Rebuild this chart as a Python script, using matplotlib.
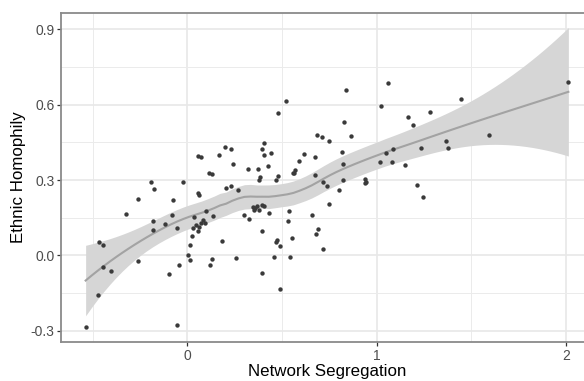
import numpy as np
import matplotlib.pyplot as plt

# --- data ---
network_segregation = [
    -0.537, -0.470, -0.468, -0.447, -0.444, -0.403, -0.324, -0.263, -0.262, -0.193,
    -0.176, -0.179, -0.180, -0.116, -0.079, -0.073, -0.056, -0.097, -0.042, -0.054,
    -0.024, 0.002, 0.013, 0.014, 0.024, 0.029, 0.044, 0.035, 0.063, 0.057,
    0.057, 0.060, 0.057, 0.071, 0.074, 0.081, 0.092, 0.099, 0.113, 0.129,
    0.118, 0.132, 0.137, 0.170, 0.182, 0.198, 0.231, 0.204, 0.229, 0.243,
    0.255, 0.268, 0.300, 0.326, 0.323, 0.371, 0.345, 0.359, 0.351, 0.367,
    0.380, 0.395, 0.407, 0.382, 0.377, 0.396, 0.396, 0.405, 0.395, 0.442,
    0.405, 0.426, 0.434, 0.456, 0.474, 0.469, 0.490, 0.491, 0.478, 0.471,
    0.478, 0.521, 0.535, 0.534, 0.545, 0.553, 0.556, 0.565, 0.569, 0.590,
    0.616, 0.673, 0.661, 0.676, 0.688, 0.680, 0.687, 0.714, 0.750, 0.718,
    0.738, 0.718, 0.746, 0.804, 0.816, 0.823, 0.823, 0.829, 0.837, 0.867,
    0.940, 0.942, 0.940, 1.018, 1.023, 1.048, 1.058, 1.080, 1.088, 1.150,
    1.166, 1.192, 1.215, 1.233, 1.247, 1.281, 1.368, 1.376, 1.447, 1.594,
    2.013,
]
ethnic_homophily = [
    -0.287, -0.157, 0.053, 0.040, -0.048, -0.064, 0.163, 0.223, -0.021, 0.292,
    0.265, 0.137, 0.100, 0.124, 0.162, 0.219, 0.110, -0.073, -0.037, -0.276,
    0.293, 0.003, -0.017, 0.043, 0.076, 0.109, 0.121, 0.153, 0.112, 0.097,
    0.247, 0.240, 0.396, 0.393, 0.129, 0.142, 0.129, 0.176, 0.327, 0.325,
    -0.037, -0.015, 0.158, 0.401, 0.056, 0.430, 0.422, 0.270, 0.278, 0.363,
    -0.011, 0.259, 0.162, 0.146, 0.343, 0.344, 0.194, 0.190, 0.182, 0.195,
    0.182, 0.199, 0.196, 0.311, 0.302, 0.097, -0.072, 0.446, 0.425, 0.408,
    0.398, 0.357, 0.167, -0.007, 0.063, 0.053, 0.037, -0.134, 0.315, 0.301,
    0.566, 0.616, 0.175, 0.135, -0.006, 0.071, 0.328, 0.329, 0.341, 0.376,
    0.405, 0.390, 0.162, 0.320, 0.105, 0.084, 0.478, 0.472, 0.455, 0.292,
    0.277, 0.024, 0.204, 0.259, 0.413, 0.364, 0.299, 0.531, 0.657, 0.474,
    0.303, 0.293, 0.287, 0.371, 0.595, 0.406, 0.687, 0.372, 0.422, 0.360,
    0.550, 0.519, 0.280, 0.426, 0.231, 0.569, 0.454, 0.426, 0.622, 0.478,
    0.689,
]

x_ticks = [0, 1, 2]
x_ticklabels = ["0", "1", "2"]
y_ticks = [-0.3, 0.0, 0.3, 0.6, 0.9]
y_ticklabels = ["-0.3", "0.0", "0.3", "0.6", "0.9"]

x = np.array(network_segregation)
y = np.array(ethnic_homophily)


# --- loess smoother (span 0.75, degree 2), like geom_smooth ---
def loess_weights(x, x0, span=0.75):
    n = len(x)
    q = int(np.floor(n * span))
    d = np.abs(x - x0)
    h = np.sort(d)[q - 1]
    w = np.clip(1 - (d / h) ** 3, 0, None) ** 3
    X = np.column_stack([np.ones(n), x - x0, (x - x0) ** 2])
    XtW = X.T * w
    return np.linalg.solve(XtW @ X, XtW)[0]


L = np.array([loess_weights(x, xi) for xi in x])
R = np.eye(len(x)) - L
delta1 = np.trace(R.T @ R)
sigma = np.sqrt(np.sum((R @ y) ** 2) / delta1)
t_crit = 1.98

x_grid = np.linspace(x.min(), x.max(), 80)
L_grid = np.array([loess_weights(x, xg) for xg in x_grid])
fit = L_grid @ y
se = sigma * np.sqrt(np.sum(L_grid ** 2, axis=1))

# --- plot ---
plt.rcParams['font.family'] = ['Liberation Sans', 'DejaVu Sans']
fig = plt.figure(figsize=(5.84, 3.81), dpi=100)
ax = fig.add_axes([61.4 / 584, 39 / 381, 531 / 584, 329 / 381])

ax.fill_between(x_grid, fit - t_crit * se, fit + t_crit * se,
                color='#d6d6d6', lw=0, zorder=2)
ax.plot(x_grid, fit, color='#a3a3a3', lw=1.5, zorder=3)
ax.scatter(x, y, s=10, color='#3a3a3a', lw=0, zorder=4)

ax.set_xlim(-0.665, 2.14)
ax.set_ylim(-0.345, 0.965)
ax.set_xticks(x_ticks)
ax.set_xticklabels(x_ticklabels)
ax.set_yticks(y_ticks)
ax.set_yticklabels(y_ticklabels)
ax.set_xticks([-0.5, 0.5, 1.5], minor=True)
ax.set_yticks([-0.15, 0.15, 0.45, 0.75], minor=True)

ax.grid(True, which='major', color='#e8e8e8', lw=1.2, zorder=0)
ax.grid(True, which='minor', color='#ebebeb', lw=0.7, zorder=0)
ax.set_axisbelow(True)
ax.tick_params(which='major', length=3, width=0.9, color='#333333',
               labelsize=10, labelcolor='#4d4d4d', pad=2)
ax.tick_params(which='minor', length=0)
for s in ax.spines.values():
    s.set_color('#8a8a8a')
    s.set_linewidth(1.3)

ax.set_xlabel("Network Segregation", fontsize=12.2, labelpad=1)
ax.set_ylabel("Ethnic Homophily", fontsize=12.2, labelpad=3)

fig.savefig('out.png', dpi=100)
